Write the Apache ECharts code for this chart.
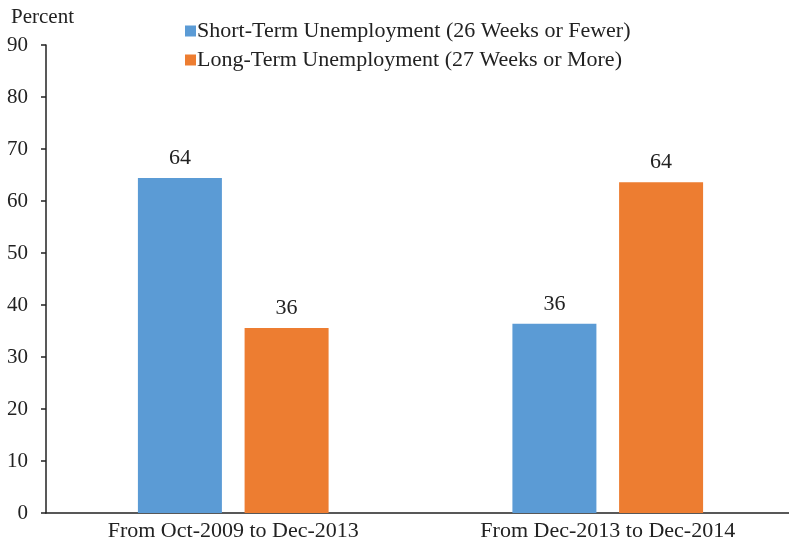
<!DOCTYPE html>
<html>
<head>
<meta charset="utf-8">
<script src="https://cdn.jsdelivr.net/npm/echarts@6/dist/echarts.min.js"></script>
<style>
  html, body { margin: 0; padding: 0; background: #fff; }
  #chart { width: 789px; height: 542px; }
</style>
</head>
<body>
<div id="chart"></div>
<script>
// categories and values
const categories = ["From Oct-2009 to Dec-2013", "From Dec-2013 to Dec-2014"];
const shortTerm = [64.4, 36.4]; // 26 weeks or fewer
const longTerm = [35.6, 63.6];  // 27 weeks or more
const seriesNames = [
  "Short-Term Unemployment (26 Weeks or Fewer)",
  "Long-Term Unemployment (27 Weeks or More)"
];
const yTicks = { min: 0, max: 90, interval: 10 };

const font = "Liberation Serif";
const chart = echarts.init(document.getElementById("chart"));

const labelOpt = {
  show: true,
  position: "top",
  distance: 9,
  fontFamily: font,
  fontSize: 22,
  color: "#222",
  formatter: (p) => Math.round(p.value),
};

chart.setOption({
  animation: false,
  textStyle: { fontFamily: font },
  legend: {
    orient: "vertical",
    left: 180,
    top: 15,
    itemWidth: 11,
    itemHeight: 11,
    itemGap: 7,
    icon: "rect",
    textStyle: { fontFamily: font, fontSize: 22, color: "#222", padding: [0, 0, 0, -4] },
    data: seriesNames,
  },
  graphic: {
    type: "text",
    left: 11,
    top: 7,
    style: { text: "Percent", fontFamily: font, fontSize: 21, fill: "#222" },
  },
  grid: { left: 46, right: -6, top: 45, bottom: 29, outerBoundsMode: "none" },
  xAxis: {
    type: "category",
    data: categories,
    axisLine: { lineStyle: { color: "#222", width: 1.5 } },
    axisTick: { show: false },
    axisLabel: { fontFamily: font, fontSize: 22, color: "#222", margin: 7 },
  },
  yAxis: {
    type: "value",
    min: yTicks.min,
    max: yTicks.max,
    interval: yTicks.interval,
    splitLine: { show: false },
    axisLine: { show: true, lineStyle: { color: "#222", width: 1.5 } },
    axisTick: { show: true, length: 5, lineStyle: { color: "#222", width: 1.5 } },
    axisLabel: { fontFamily: font, fontSize: 21, color: "#222", margin: 18 },
  },
  series: [
    {
      name: seriesNames[0],
      type: "bar",
      data: shortTerm,
      barWidth: 84,
      barGap: "27%",
      itemStyle: { color: "#5B9BD5" },
      label: labelOpt,
    },
    {
      name: seriesNames[1],
      type: "bar",
      data: longTerm,
      barWidth: 84,
      itemStyle: { color: "#ED7D31" },
      label: labelOpt,
    },
  ],
});
</script>
</body>
</html>
